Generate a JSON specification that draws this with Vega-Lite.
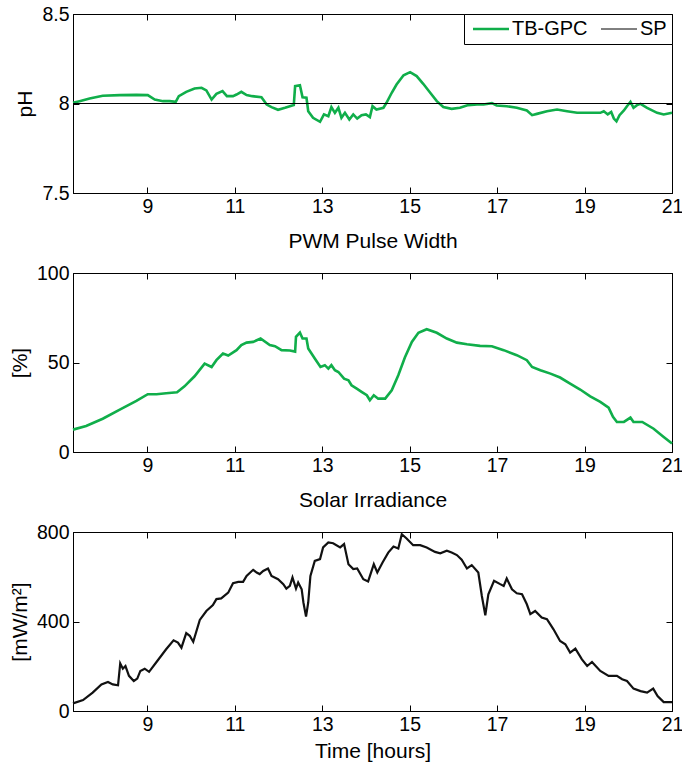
{
  "$schema": "https://vega.github.io/schema/vega-lite/v6.json",
  "padding": {"left": 8, "top": 3, "right": 5, "bottom": 0},
  "spacing": 10,
  "background": "white",
  "config": {
    "font": "Liberation Sans",
    "view": {"stroke": "black", "strokeWidth": 1},
    "axis": {
      "labelFontSize": 19.5,
      "titleFontSize": 21,
      "labelColor": "black",
      "titleColor": "black",
      "titleFontWeight": "normal",
      "domainColor": "black",
      "tickColor": "black",
      "tickWidth": 1,
      "grid": false,
      "tickSize": -6,
      "labelPadding": 10,
      "labelFlush": false,
      "labelOverlap": false
    },
    "legend": {"labelFont": "Liberation Sans"}
  },
  "datasets": {
    "ph": [
      {"t": 7.30, "v": 8.004, "s": "TB-GPC"}, {"t": 7.45, "v": 8.013, "s": "TB-GPC"}, {"t": 7.68, "v": 8.028, "s": "TB-GPC"},
      {"t": 7.98, "v": 8.043, "s": "TB-GPC"}, {"t": 8.37, "v": 8.047, "s": "TB-GPC"}, {"t": 8.75, "v": 8.048, "s": "TB-GPC"},
      {"t": 9.01, "v": 8.047, "s": "TB-GPC"}, {"t": 9.17, "v": 8.022, "s": "TB-GPC"}, {"t": 9.36, "v": 8.013, "s": "TB-GPC"},
      {"t": 9.51, "v": 8.013, "s": "TB-GPC"}, {"t": 9.65, "v": 8.009, "s": "TB-GPC"}, {"t": 9.72, "v": 8.041, "s": "TB-GPC"},
      {"t": 9.89, "v": 8.065, "s": "TB-GPC"}, {"t": 10.08, "v": 8.084, "s": "TB-GPC"}, {"t": 10.24, "v": 8.088, "s": "TB-GPC"},
      {"t": 10.35, "v": 8.073, "s": "TB-GPC"}, {"t": 10.47, "v": 8.022, "s": "TB-GPC"}, {"t": 10.58, "v": 8.054, "s": "TB-GPC"},
      {"t": 10.72, "v": 8.069, "s": "TB-GPC"}, {"t": 10.82, "v": 8.041, "s": "TB-GPC"}, {"t": 10.96, "v": 8.041, "s": "TB-GPC"},
      {"t": 11.04, "v": 8.050, "s": "TB-GPC"}, {"t": 11.15, "v": 8.065, "s": "TB-GPC"}, {"t": 11.27, "v": 8.047, "s": "TB-GPC"},
      {"t": 11.40, "v": 8.041, "s": "TB-GPC"}, {"t": 11.61, "v": 8.035, "s": "TB-GPC"}, {"t": 11.73, "v": 7.994, "s": "TB-GPC"},
      {"t": 11.84, "v": 7.980, "s": "TB-GPC"}, {"t": 11.99, "v": 7.965, "s": "TB-GPC"}, {"t": 12.15, "v": 7.976, "s": "TB-GPC"},
      {"t": 12.26, "v": 7.985, "s": "TB-GPC"}, {"t": 12.35, "v": 7.991, "s": "TB-GPC"}, {"t": 12.38, "v": 8.097, "s": "TB-GPC"},
      {"t": 12.49, "v": 8.102, "s": "TB-GPC"}, {"t": 12.55, "v": 8.035, "s": "TB-GPC"}, {"t": 12.64, "v": 8.032, "s": "TB-GPC"},
      {"t": 12.68, "v": 7.957, "s": "TB-GPC"}, {"t": 12.79, "v": 7.920, "s": "TB-GPC"}, {"t": 12.95, "v": 7.898, "s": "TB-GPC"},
      {"t": 13.04, "v": 7.939, "s": "TB-GPC"}, {"t": 13.14, "v": 7.929, "s": "TB-GPC"}, {"t": 13.21, "v": 7.980, "s": "TB-GPC"},
      {"t": 13.29, "v": 7.948, "s": "TB-GPC"}, {"t": 13.37, "v": 7.976, "s": "TB-GPC"}, {"t": 13.44, "v": 7.920, "s": "TB-GPC"},
      {"t": 13.52, "v": 7.948, "s": "TB-GPC"}, {"t": 13.62, "v": 7.911, "s": "TB-GPC"}, {"t": 13.71, "v": 7.939, "s": "TB-GPC"},
      {"t": 13.80, "v": 7.916, "s": "TB-GPC"}, {"t": 13.90, "v": 7.935, "s": "TB-GPC"}, {"t": 14.00, "v": 7.939, "s": "TB-GPC"},
      {"t": 14.09, "v": 7.924, "s": "TB-GPC"}, {"t": 14.15, "v": 7.985, "s": "TB-GPC"}, {"t": 14.24, "v": 7.966, "s": "TB-GPC"},
      {"t": 14.40, "v": 7.976, "s": "TB-GPC"}, {"t": 14.47, "v": 8.004, "s": "TB-GPC"}, {"t": 14.59, "v": 8.060, "s": "TB-GPC"},
      {"t": 14.70, "v": 8.106, "s": "TB-GPC"}, {"t": 14.86, "v": 8.158, "s": "TB-GPC"}, {"t": 15.01, "v": 8.175, "s": "TB-GPC"},
      {"t": 15.16, "v": 8.153, "s": "TB-GPC"}, {"t": 15.31, "v": 8.110, "s": "TB-GPC"}, {"t": 15.47, "v": 8.060, "s": "TB-GPC"},
      {"t": 15.62, "v": 8.013, "s": "TB-GPC"}, {"t": 15.77, "v": 7.980, "s": "TB-GPC"}, {"t": 15.96, "v": 7.970, "s": "TB-GPC"},
      {"t": 16.15, "v": 7.976, "s": "TB-GPC"}, {"t": 16.34, "v": 7.991, "s": "TB-GPC"}, {"t": 16.54, "v": 7.994, "s": "TB-GPC"},
      {"t": 16.69, "v": 7.994, "s": "TB-GPC"}, {"t": 16.88, "v": 8.002, "s": "TB-GPC"}, {"t": 16.99, "v": 7.989, "s": "TB-GPC"},
      {"t": 17.22, "v": 7.985, "s": "TB-GPC"}, {"t": 17.45, "v": 7.976, "s": "TB-GPC"}, {"t": 17.68, "v": 7.961, "s": "TB-GPC"},
      {"t": 17.80, "v": 7.935, "s": "TB-GPC"}, {"t": 17.91, "v": 7.942, "s": "TB-GPC"}, {"t": 18.14, "v": 7.957, "s": "TB-GPC"},
      {"t": 18.37, "v": 7.966, "s": "TB-GPC"}, {"t": 18.60, "v": 7.957, "s": "TB-GPC"}, {"t": 18.83, "v": 7.948, "s": "TB-GPC"},
      {"t": 19.13, "v": 7.948, "s": "TB-GPC"}, {"t": 19.36, "v": 7.948, "s": "TB-GPC"}, {"t": 19.44, "v": 7.957, "s": "TB-GPC"},
      {"t": 19.53, "v": 7.939, "s": "TB-GPC"}, {"t": 19.61, "v": 7.953, "s": "TB-GPC"}, {"t": 19.67, "v": 7.916, "s": "TB-GPC"},
      {"t": 19.73, "v": 7.901, "s": "TB-GPC"}, {"t": 19.80, "v": 7.935, "s": "TB-GPC"}, {"t": 19.90, "v": 7.961, "s": "TB-GPC"},
      {"t": 19.97, "v": 7.985, "s": "TB-GPC"}, {"t": 20.05, "v": 8.009, "s": "TB-GPC"}, {"t": 20.12, "v": 7.976, "s": "TB-GPC"},
      {"t": 20.20, "v": 7.991, "s": "TB-GPC"}, {"t": 20.28, "v": 7.998, "s": "TB-GPC"}, {"t": 20.43, "v": 7.976, "s": "TB-GPC"},
      {"t": 20.66, "v": 7.948, "s": "TB-GPC"}, {"t": 20.81, "v": 7.939, "s": "TB-GPC"}, {"t": 21.00, "v": 7.948, "s": "TB-GPC"}
    ],
    "sp": [
      {"t": 7.3, "v": 8.0, "s": "SP"}, {"t": 21.0, "v": 8.0, "s": "SP"}
    ],
    "pwm": [
      {"t": 7.30, "v": 12.5}, {"t": 7.60, "v": 14.5}, {"t": 7.98, "v": 18.6}, {"t": 8.37, "v": 23.7}, {"t": 8.75, "v": 28.5},
      {"t": 9.01, "v": 32.3}, {"t": 9.21, "v": 32.3}, {"t": 9.43, "v": 32.8}, {"t": 9.68, "v": 33.4}, {"t": 9.85, "v": 36.7},
      {"t": 10.08, "v": 42.3}, {"t": 10.31, "v": 49.4}, {"t": 10.47, "v": 47.5}, {"t": 10.58, "v": 51.3}, {"t": 10.73, "v": 55.0},
      {"t": 10.85, "v": 53.9}, {"t": 11.04, "v": 56.9}, {"t": 11.15, "v": 59.7}, {"t": 11.27, "v": 61.1}, {"t": 11.42, "v": 61.5},
      {"t": 11.59, "v": 63.4}, {"t": 11.80, "v": 59.7}, {"t": 11.92, "v": 59.1}, {"t": 12.07, "v": 56.9}, {"t": 12.26, "v": 56.7},
      {"t": 12.38, "v": 56.1}, {"t": 12.40, "v": 64.3}, {"t": 12.49, "v": 66.7}, {"t": 12.55, "v": 63.4}, {"t": 12.64, "v": 63.4},
      {"t": 12.68, "v": 57.8}, {"t": 12.83, "v": 52.2}, {"t": 12.96, "v": 47.5}, {"t": 13.06, "v": 48.5}, {"t": 13.14, "v": 46.6},
      {"t": 13.21, "v": 48.5}, {"t": 13.29, "v": 45.7}, {"t": 13.37, "v": 44.7}, {"t": 13.50, "v": 41.0}, {"t": 13.60, "v": 40.1},
      {"t": 13.67, "v": 37.3}, {"t": 13.79, "v": 35.4}, {"t": 13.90, "v": 33.6}, {"t": 14.02, "v": 31.7}, {"t": 14.09, "v": 28.9},
      {"t": 14.18, "v": 31.7}, {"t": 14.28, "v": 29.8}, {"t": 14.44, "v": 29.8}, {"t": 14.59, "v": 34.5}, {"t": 14.74, "v": 42.9},
      {"t": 14.89, "v": 52.8}, {"t": 15.05, "v": 61.5}, {"t": 15.20, "v": 66.6}, {"t": 15.39, "v": 68.6}, {"t": 15.62, "v": 66.6},
      {"t": 15.85, "v": 63.4}, {"t": 16.08, "v": 61.1}, {"t": 16.31, "v": 60.2}, {"t": 16.61, "v": 59.3}, {"t": 16.88, "v": 59.1},
      {"t": 17.15, "v": 56.9}, {"t": 17.45, "v": 54.1}, {"t": 17.68, "v": 51.3}, {"t": 17.80, "v": 47.5}, {"t": 17.99, "v": 45.7},
      {"t": 18.22, "v": 43.8}, {"t": 18.44, "v": 41.6}, {"t": 18.67, "v": 38.2}, {"t": 18.90, "v": 34.9}, {"t": 19.13, "v": 31.1},
      {"t": 19.36, "v": 28.0}, {"t": 19.55, "v": 24.8}, {"t": 19.65, "v": 19.6}, {"t": 19.74, "v": 16.8}, {"t": 19.90, "v": 16.8},
      {"t": 20.05, "v": 19.2}, {"t": 20.12, "v": 16.8}, {"t": 20.32, "v": 16.8}, {"t": 20.58, "v": 13.0}, {"t": 20.81, "v": 8.4},
      {"t": 21.00, "v": 4.7}
    ],
    "irr": [
      {"t": 7.30, "v": 34}, {"t": 7.53, "v": 49}, {"t": 7.75, "v": 82}, {"t": 7.95, "v": 119}, {"t": 8.10, "v": 130},
      {"t": 8.21, "v": 119}, {"t": 8.33, "v": 115}, {"t": 8.38, "v": 213}, {"t": 8.44, "v": 189}, {"t": 8.50, "v": 201},
      {"t": 8.58, "v": 157}, {"t": 8.69, "v": 134}, {"t": 8.77, "v": 145}, {"t": 8.84, "v": 179}, {"t": 8.94, "v": 189},
      {"t": 9.04, "v": 175}, {"t": 9.21, "v": 219}, {"t": 9.43, "v": 276}, {"t": 9.60, "v": 316}, {"t": 9.70, "v": 306},
      {"t": 9.78, "v": 283}, {"t": 9.89, "v": 348}, {"t": 9.97, "v": 336}, {"t": 10.05, "v": 309}, {"t": 10.20, "v": 407},
      {"t": 10.35, "v": 447}, {"t": 10.50, "v": 473}, {"t": 10.58, "v": 500}, {"t": 10.69, "v": 503}, {"t": 10.85, "v": 529},
      {"t": 10.96, "v": 571}, {"t": 11.08, "v": 577}, {"t": 11.19, "v": 577}, {"t": 11.27, "v": 604}, {"t": 11.42, "v": 631},
      {"t": 11.50, "v": 619}, {"t": 11.57, "v": 612}, {"t": 11.65, "v": 626}, {"t": 11.76, "v": 637}, {"t": 11.84, "v": 604},
      {"t": 11.99, "v": 589}, {"t": 12.11, "v": 567}, {"t": 12.18, "v": 547}, {"t": 12.26, "v": 559}, {"t": 12.32, "v": 597},
      {"t": 12.40, "v": 547}, {"t": 12.45, "v": 574}, {"t": 12.53, "v": 544}, {"t": 12.57, "v": 485}, {"t": 12.63, "v": 422},
      {"t": 12.68, "v": 485}, {"t": 12.73, "v": 604}, {"t": 12.83, "v": 671}, {"t": 12.95, "v": 679}, {"t": 13.02, "v": 731},
      {"t": 13.14, "v": 753}, {"t": 13.25, "v": 750}, {"t": 13.41, "v": 731}, {"t": 13.50, "v": 746}, {"t": 13.60, "v": 656},
      {"t": 13.71, "v": 634}, {"t": 13.80, "v": 637}, {"t": 13.94, "v": 589}, {"t": 14.05, "v": 579}, {"t": 14.18, "v": 656},
      {"t": 14.26, "v": 619}, {"t": 14.38, "v": 664}, {"t": 14.51, "v": 708}, {"t": 14.63, "v": 735}, {"t": 14.74, "v": 726},
      {"t": 14.82, "v": 790}, {"t": 14.93, "v": 771}, {"t": 15.08, "v": 741}, {"t": 15.24, "v": 741}, {"t": 15.39, "v": 731},
      {"t": 15.58, "v": 711}, {"t": 15.70, "v": 705}, {"t": 15.85, "v": 716}, {"t": 15.96, "v": 708}, {"t": 16.08, "v": 697},
      {"t": 16.19, "v": 676}, {"t": 16.31, "v": 637}, {"t": 16.42, "v": 652}, {"t": 16.57, "v": 619}, {"t": 16.65, "v": 515},
      {"t": 16.73, "v": 428}, {"t": 16.80, "v": 522}, {"t": 16.93, "v": 582}, {"t": 17.07, "v": 567}, {"t": 17.15, "v": 559},
      {"t": 17.22, "v": 592}, {"t": 17.34, "v": 544}, {"t": 17.45, "v": 526}, {"t": 17.57, "v": 522}, {"t": 17.68, "v": 477},
      {"t": 17.76, "v": 433}, {"t": 17.87, "v": 447}, {"t": 18.02, "v": 418}, {"t": 18.14, "v": 410}, {"t": 18.29, "v": 365},
      {"t": 18.44, "v": 313}, {"t": 18.56, "v": 298}, {"t": 18.67, "v": 261}, {"t": 18.79, "v": 279}, {"t": 18.94, "v": 231},
      {"t": 19.06, "v": 201}, {"t": 19.17, "v": 219}, {"t": 19.36, "v": 179}, {"t": 19.55, "v": 157}, {"t": 19.74, "v": 157},
      {"t": 19.86, "v": 142}, {"t": 19.97, "v": 134}, {"t": 20.12, "v": 100}, {"t": 20.28, "v": 89}, {"t": 20.43, "v": 82},
      {"t": 20.57, "v": 100}, {"t": 20.67, "v": 67}, {"t": 20.81, "v": 40}, {"t": 21.00, "v": 40}
    ]
  },
  "vconcat": [
    {
      "width": 599,
      "height": 179,
      "resolve": {"axis": {"x": "independent", "y": "independent"}},
      "layer": [
        {
          "data": {"name": "ph"},
          "mark": {"type": "line", "interpolate": "linear", "strokeWidth": 2.6},
          "encoding": {
            "x": {"field": "t", "type": "quantitative", "scale": {"domain": [7.3, 21], "nice": false, "zero": false},
                  "axis": {"orient": "bottom", "values": [9, 11, 13, 15, 17, 19, 21], "title": "PWM Pulse Width", "titlePadding": 15}},
            "y": {"field": "v", "type": "quantitative", "scale": {"domain": [7.5, 8.5], "nice": false, "zero": false},
                  "axis": {"orient": "left", "values": [7.5, 8, 8.5], "format": "~g", "title": "pH", "titlePadding": 6}},
            "color": {"field": "s", "type": "nominal",
                      "scale": {"domain": ["TB-GPC", "SP"], "range": ["#10ae4a", "#000000"]},
                      "legend": {"orient": "top-right", "offset": 0, "direction": "horizontal", "title": null,
                                 "strokeColor": "black", "fillColor": "white", "padding": 5, "labelFontSize": 20,
                                 "symbolType": "M-1,0H5", "symbolSize": 144, "columnPadding": 9, "labelOffset": 23,
                                 "cornerRadius": 0, "labelColor": "black",
                                 "encode": {"symbols": {"update": {"strokeWidth": {"signal": "datum.value === 'SP' ? 1 : 2.6"}}}}}}
          }
        },
        {
          "data": {"name": "sp"},
          "mark": {"type": "line", "strokeWidth": 1},
          "encoding": {
            "x": {"field": "t", "type": "quantitative", "axis": {"orient": "top", "values": [9, 11, 13, 15, 17, 19, 21], "labels": false, "title": null}},
            "y": {"field": "v", "type": "quantitative", "axis": {"orient": "right", "values": [7.5, 8, 8.5], "labels": false, "title": null}},
            "color": {"field": "s", "type": "nominal"}
          }
        }
      ]
    },
    {
      "width": 599,
      "height": 179,
      "resolve": {"axis": {"x": "independent", "y": "independent"}},
      "data": {"name": "pwm"},
      "layer": [
        {
          "mark": {"type": "line", "color": "#10ae4a", "strokeWidth": 2.6},
          "encoding": {
            "x": {"field": "t", "type": "quantitative", "scale": {"domain": [7.3, 21], "nice": false, "zero": false},
                  "axis": {"orient": "bottom", "values": [9, 11, 13, 15, 17, 19, 21], "title": "Solar Irradiance", "titlePadding": 15}},
            "y": {"field": "v", "type": "quantitative", "scale": {"domain": [0, 100], "nice": false},
                  "axis": {"orient": "left", "values": [0, 50, 100], "title": "[%]", "titlePadding": 6}}
          }
        },
        {
          "mark": {"type": "line", "opacity": 0},
          "encoding": {
            "x": {"field": "t", "type": "quantitative", "axis": {"orient": "top", "values": [9, 11, 13, 15, 17, 19, 21], "labels": false, "title": null}},
            "y": {"field": "v", "type": "quantitative", "axis": {"orient": "right", "values": [0, 50, 100], "labels": false, "title": null}}
          }
        }
      ]
    },
    {
      "width": 599,
      "height": 179,
      "resolve": {"axis": {"x": "independent", "y": "independent"}},
      "data": {"name": "irr"},
      "layer": [
        {
          "mark": {"type": "line", "color": "#111111", "strokeWidth": 2.2},
          "encoding": {
            "x": {"field": "t", "type": "quantitative", "scale": {"domain": [7.3, 21], "nice": false, "zero": false},
                  "axis": {"orient": "bottom", "values": [9, 11, 13, 15, 17, 19, 21], "title": "Time [hours]", "titlePadding": 7}},
            "y": {"field": "v", "type": "quantitative", "scale": {"domain": [0, 800], "nice": false},
                  "axis": {"orient": "left", "values": [0, 400, 800], "title": "[mW/m²]", "titlePadding": 6}}
          }
        },
        {
          "mark": {"type": "line", "opacity": 0},
          "encoding": {
            "x": {"field": "t", "type": "quantitative", "axis": {"orient": "top", "values": [9, 11, 13, 15, 17, 19, 21], "labels": false, "title": null}},
            "y": {"field": "v", "type": "quantitative", "axis": {"orient": "right", "values": [0, 400, 800], "labels": false, "title": null}}
          }
        }
      ]
    }
  ]
}
